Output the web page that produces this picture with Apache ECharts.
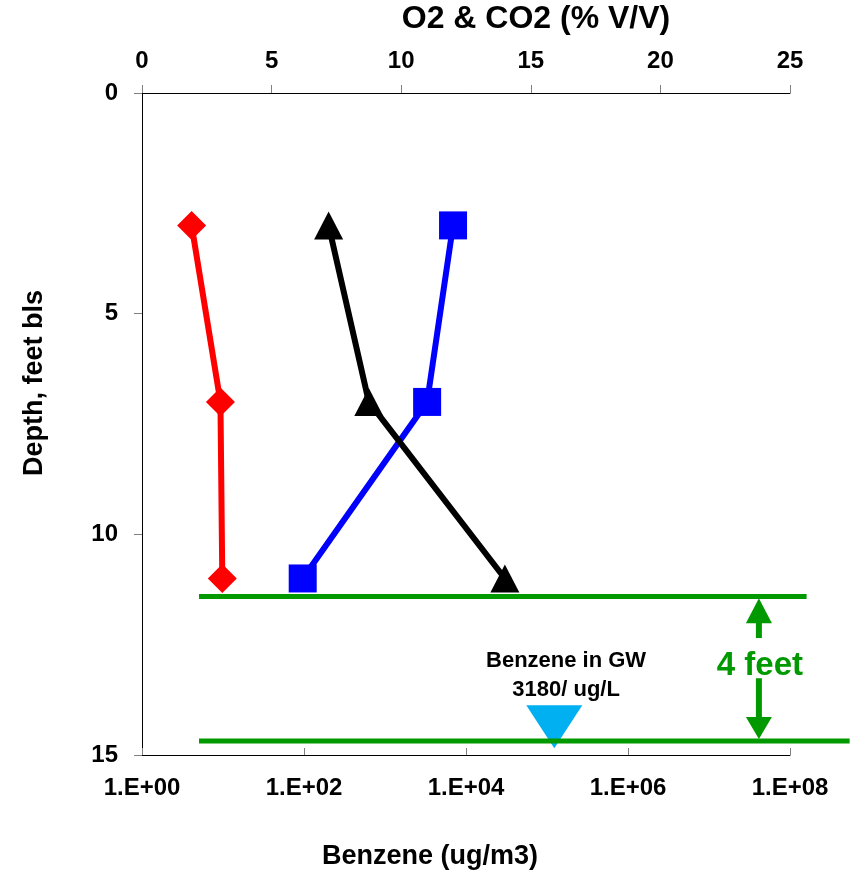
<!DOCTYPE html>
<html>
<head>
<meta charset="utf-8">
<script src="https://cdn.jsdelivr.net/npm/echarts@6/dist/echarts.min.js"></script>
<style>
html,body{margin:0;padding:0;background:#fff;}
#chart{width:850px;height:872px;}
</style>
</head>
<body>
<div id="chart"></div>
<script>
// ---- data ----
const depths = [3, 7, 11];                 // feet bls
const benzene = [4.1, 9.3, 9.8];           // ug/m3 (log axis)
const o2 = [12.0, 11.0, 6.2];              // % V/V
const co2 = [7.2, 8.75, 14.0];             // % V/V
const depthTicks = [0, 15, 5];             // min, max, interval
const pctTicks = [0, 25, 5];
const logTicks = [1, 1e8];
// green horizontal lines: [x start (O2 axis units), depth, x end]
const gwLines = [[2.2, 11.41, 25.64], [2.2, 14.68, 27.3]];
const arrowX = 23.8;
const arrowUpShaft = [11.9, 12.35];
const arrowDownShaft = [13.26, 14.25];
const arrowUpHead = 11.73;
const arrowDownHead = 14.39;
const feetLabel = [23.84, 12.98, '4 feet'];
const gwPoint = [1.23e5, 14.36];
const gwLabel = [1.72e5, 13.2, 'Benzene in GW\n3180/ ug/L'];

const FONT = "'Liberation Sans', Arial, Helvetica, sans-serif";
const GREEN = '#009900';

function pairs(xs, ys) { return xs.map((x, i) => [x, ys[i]]); }
function expLabel(v) {
  const e = Math.round(Math.log10(v));
  return '1.E+' + String(e).padStart(2, '0');
}

const chart = echarts.init(document.getElementById('chart'), null, {renderer: 'canvas'});
const tickLabel = {fontFamily: FONT, fontWeight: 'bold', fontSize: 24, color: '#000'};

chart.setOption({
  animation: false,
  backgroundColor: '#fff',
  grid: {left: 142, right: 60, top: 93, bottom: 117, containLabel: false},
  xAxis: [
    {
      type: 'log', logBase: 100, min: logTicks[0], max: logTicks[1], position: 'bottom',
      axisLine: {show: true, onZero: false, lineStyle: {color: '#000', width: 1}},
      axisTick: {show: true, inside: true, length: 7, lineStyle: {color: '#808080'}},
      minorTick: {show: false},
      splitLine: {show: false},
      axisLabel: Object.assign({margin: 21, formatter: expLabel}, tickLabel)
    },
    {
      type: 'value', min: pctTicks[0], max: pctTicks[1], interval: pctTicks[2], position: 'top',
      axisLine: {show: true, onZero: false, lineStyle: {color: '#000', width: 1}},
      axisTick: {show: true, inside: false, length: 8, lineStyle: {color: '#808080'}},
      minorTick: {show: false},
      splitLine: {show: false},
      axisLabel: Object.assign({margin: 20}, tickLabel)
    }
  ],
  yAxis: [
    {
      type: 'value', inverse: true, min: depthTicks[0], max: depthTicks[1], interval: depthTicks[2],
      axisLine: {show: true, onZero: false, lineStyle: {color: '#000', width: 1}},
      axisTick: {show: true, inside: false, length: 8, lineStyle: {color: '#808080'}},
      splitLine: {show: false},
      axisLabel: Object.assign({margin: 24}, tickLabel)
    }
  ],
  graphic: [
    {type: 'text', x: 536, y: 19, style: {text: 'O2 & CO2 (% V/V)', font: 'bold 32px ' + FONT, fill: '#000', textAlign: 'center', textVerticalAlign: 'middle'}},
    {type: 'text', x: 430, y: 857, style: {text: 'Benzene (ug/m3)', font: 'bold 27px ' + FONT, fill: '#000', textAlign: 'center', textVerticalAlign: 'middle'}},
    {type: 'text', x: 35, y: 383, rotation: Math.PI / 2, style: {text: 'Depth, feet bls', font: 'bold 27px ' + FONT, fill: '#000', textAlign: 'center', textVerticalAlign: 'middle'}}
  ],
  series: [
    {
      name: 'Benzene', type: 'line', xAxisIndex: 0, yAxisIndex: 0,
      data: pairs(benzene, depths),
      lineStyle: {color: '#ff0000', width: 6},
      itemStyle: {color: '#ff0000'},
      symbol: 'diamond', symbolSize: 29, showAllSymbol: true, z: 3
    },
    {
      name: 'O2', type: 'line', xAxisIndex: 1, yAxisIndex: 0,
      data: pairs(o2, depths),
      lineStyle: {color: '#0000ff', width: 6},
      itemStyle: {color: '#0000ff'},
      symbol: 'rect', symbolSize: 28, z: 3
    },
    {
      name: 'CO2', type: 'line', xAxisIndex: 1, yAxisIndex: 0,
      data: pairs(co2, depths),
      lineStyle: {color: '#000', width: 6},
      itemStyle: {color: '#000'},
      symbol: 'triangle', symbolSize: [29, 28], z: 4
    },
    {
      name: 'GW marker', type: 'scatter', xAxisIndex: 0, yAxisIndex: 0,
      data: [gwPoint], symbol: 'triangle', symbolRotate: 180, symbolSize: [56, 43],
      itemStyle: {color: '#00b0f0', opacity: 1}, z: 4
    },
    {
      name: 'gwLines', type: 'custom', xAxisIndex: 1, yAxisIndex: 0, clip: false, z: 6,
      data: gwLines,
      encode: {x: 0, y: 1},
      renderItem: function (params, api) {
        const d = api.value(1);
        const p0 = api.coord([pctTicks[0], d]);
        const p1 = api.coord([pctTicks[1], d]);
        const k = (p1[0] - p0[0]) / (pctTicks[1] - pctTicks[0]);
        const xa = p0[0] + (api.value(0) - pctTicks[0]) * k;
        const xb = p0[0] + (api.value(2) - pctTicks[0]) * k;
        return {
          type: 'line',
          shape: {x1: xa, y1: p0[1], x2: xb, y2: p0[1]},
          style: {stroke: GREEN, lineWidth: 5}
        };
      }
    },
    {
      name: 'shaftUp', type: 'line', xAxisIndex: 1, yAxisIndex: 0,
      data: arrowUpShaft.map(d => [arrowX, d]),
      symbol: 'none', clip: false, lineStyle: {color: GREEN, width: 6}, z: 6
    },
    {
      name: 'shaftDown', type: 'line', xAxisIndex: 1, yAxisIndex: 0,
      data: arrowDownShaft.map(d => [arrowX, d]),
      symbol: 'none', clip: false, lineStyle: {color: GREEN, width: 6}, z: 6
    },
    {
      name: 'headUp', type: 'scatter', xAxisIndex: 1, yAxisIndex: 0,
      data: [[arrowX, arrowUpHead]], symbol: 'triangle', symbolSize: [26, 25],
      itemStyle: {color: GREEN, opacity: 1}, clip: false, z: 6
    },
    {
      name: 'headDown', type: 'scatter', xAxisIndex: 1, yAxisIndex: 0,
      data: [[arrowX, arrowDownHead]], symbol: 'triangle', symbolRotate: 180, symbolSize: [26, 22],
      itemStyle: {color: GREEN, opacity: 1}, clip: false, z: 6
    },
    {
      name: 'feetText', type: 'scatter', xAxisIndex: 1, yAxisIndex: 0,
      data: [feetLabel], symbolSize: 0, clip: false, z: 7,
      itemStyle: {opacity: 1},
      label: {show: true, position: 'inside', formatter: p => p.data[2],
        fontFamily: FONT, fontWeight: 'bold', fontSize: 33, color: GREEN}
    },
    {
      name: 'gwText', type: 'scatter', xAxisIndex: 0, yAxisIndex: 0,
      data: [gwLabel], symbolSize: 0, z: 7,
      itemStyle: {opacity: 1},
      label: {show: true, position: 'inside', formatter: p => p.data[2],
        fontFamily: FONT, fontWeight: 'bold', fontSize: 22, lineHeight: 29, color: '#000', align: 'center'}
    }
  ]
});
</script>
</body>
</html>
